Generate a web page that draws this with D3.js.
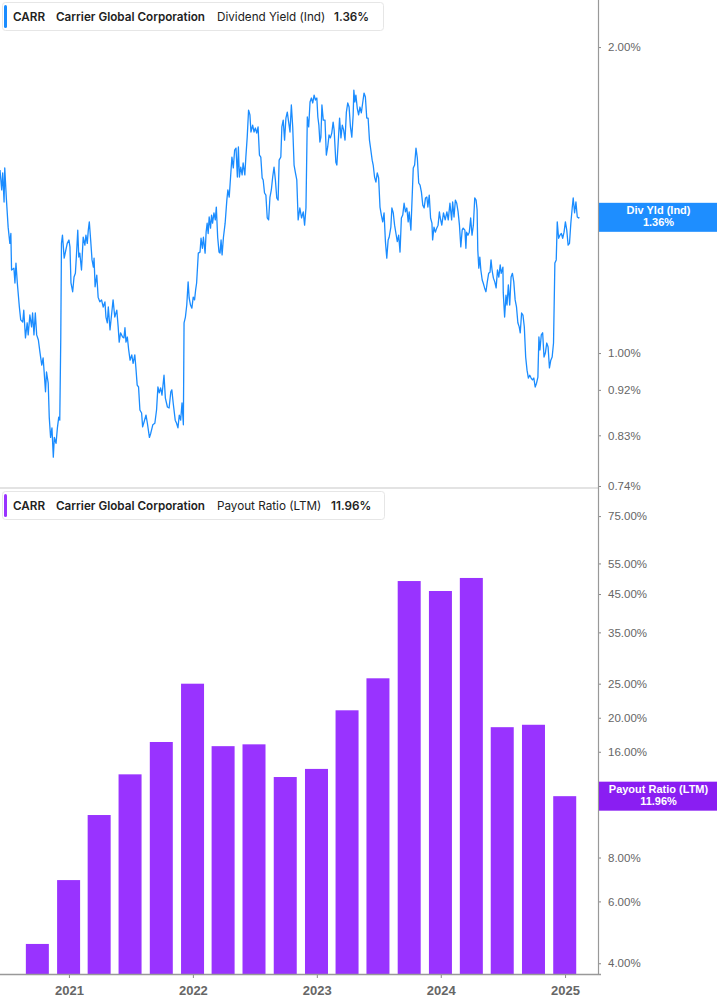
<!DOCTYPE html>
<html><head><meta charset="utf-8">
<script src="https://cdn.jsdelivr.net/npm/d3@7"></script>
<style>
html,body{margin:0;padding:0;background:#fff;}
svg{display:block;}
</style></head>
<body>
<svg id="chart" width="717" height="1005"></svg>
<script>
// ---------- DATA ----------
const yieldDates = ["2020-06-12","2020-06-17","2020-06-20","2020-06-24","2020-06-26","2020-07-01","2020-07-06","2020-07-11","2020-07-14","2020-07-16","2020-07-23","2020-07-26","2020-07-29","2020-08-02","2020-08-08","2020-08-12","2020-08-18","2020-08-21","2020-08-26","2020-08-31","2020-09-03","2020-09-08","2020-09-13","2020-09-16","2020-09-20","2020-09-24","2020-09-28","2020-10-03","2020-10-08","2020-10-13","2020-10-17","2020-10-20","2020-10-24","2020-10-27","2020-11-01","2020-11-04","2020-11-08","2020-11-12","2020-11-16","2020-11-19","2020-11-24","2020-11-28","2020-12-02","2020-12-05","2020-12-08","2020-12-10","2020-12-13","2020-12-18","2020-12-23","2020-12-27",
"2021-01-01","2021-01-04","2021-01-07","2021-01-12","2021-01-16","2021-01-20","2021-01-24","2021-01-27","2021-01-30","2021-02-02","2021-02-07","2021-02-12","2021-02-17","2021-02-20","2021-02-24","2021-02-27","2021-03-02","2021-03-06","2021-03-10","2021-03-14","2021-03-16","2021-03-19","2021-03-24","2021-03-28","2021-04-02","2021-04-07","2021-04-12","2021-04-17","2021-04-20","2021-04-24","2021-04-27","2021-05-02","2021-05-07","2021-05-11","2021-05-16","2021-05-22","2021-05-26","2021-05-29","2021-06-02","2021-06-08","2021-06-12","2021-06-15","2021-06-18","2021-06-22","2021-06-26","2021-06-30","2021-07-05","2021-07-09","2021-07-14","2021-07-17","2021-07-21","2021-07-25","2021-07-29","2021-08-03","2021-08-06","2021-08-10","2021-08-16","2021-08-20","2021-08-26","2021-08-30","2021-09-05","2021-09-11","2021-09-16","2021-09-20","2021-09-24","2021-09-28","2021-10-02","2021-10-08","2021-10-12","2021-10-18","2021-10-23","2021-10-28","2021-10-31","2021-11-04","2021-11-10","2021-11-14","2021-11-18","2021-11-22","2021-11-26","2021-11-30","2021-12-04","2021-12-06","2021-12-10","2021-12-14","2021-12-18","2021-12-21","2021-12-25","2021-12-29",
"2022-01-02","2022-01-06","2022-01-09","2022-01-12","2022-01-17","2022-01-22","2022-01-25","2022-01-29","2022-02-01","2022-02-06","2022-02-09","2022-02-12","2022-02-15","2022-02-18","2022-02-22","2022-02-25","2022-02-28","2022-03-04","2022-03-08","2022-03-11","2022-03-15","2022-03-19","2022-03-22","2022-03-25","2022-03-28","2022-04-01","2022-04-06","2022-04-11","2022-04-14","2022-04-18","2022-04-22","2022-04-26","2022-04-30","2022-05-04","2022-05-08","2022-05-12","2022-05-15","2022-05-18","2022-05-22","2022-05-26","2022-05-29","2022-06-03","2022-06-06","2022-06-10","2022-06-14","2022-06-18","2022-06-21","2022-06-26","2022-06-30","2022-07-04","2022-07-08","2022-07-12","2022-07-16","2022-07-20","2022-07-24","2022-07-27","2022-07-31","2022-08-04","2022-08-08","2022-08-12","2022-08-16","2022-08-20","2022-08-24","2022-08-28","2022-09-01","2022-09-05","2022-09-09","2022-09-12","2022-09-17","2022-09-20","2022-09-24","2022-09-28","2022-10-02","2022-10-06","2022-10-10","2022-10-14","2022-10-18","2022-10-22","2022-10-26","2022-10-30","2022-11-03","2022-11-07","2022-11-10","2022-11-12","2022-11-17","2022-11-22","2022-11-26","2022-11-30","2022-12-04","2022-12-08","2022-12-12","2022-12-16","2022-12-20","2022-12-24","2022-12-28",
"2023-01-01","2023-01-04","2023-01-07","2023-01-10","2023-01-13","2023-01-16","2023-01-20","2023-01-25","2023-01-29","2023-02-02","2023-02-06","2023-02-10","2023-02-14","2023-02-18","2023-02-21","2023-02-26","2023-03-01","2023-03-05","2023-03-09","2023-03-13","2023-03-17","2023-03-21","2023-03-25","2023-03-29","2023-04-02","2023-04-06","2023-04-10","2023-04-14","2023-04-18","2023-04-20","2023-04-23","2023-04-26","2023-04-30","2023-05-04","2023-05-08","2023-05-12","2023-05-16","2023-05-20","2023-05-24","2023-05-28","2023-06-01","2023-06-05","2023-06-09","2023-06-13","2023-06-16","2023-06-20","2023-06-24","2023-06-28","2023-07-02","2023-07-06","2023-07-10","2023-07-14","2023-07-18","2023-07-22","2023-07-26","2023-07-30","2023-08-02","2023-08-07","2023-08-10","2023-08-14","2023-08-18","2023-08-22","2023-08-26","2023-08-30","2023-09-03","2023-09-07","2023-09-11","2023-09-15","2023-09-19","2023-09-23","2023-09-27","2023-09-30","2023-10-05","2023-10-08","2023-10-12","2023-10-16","2023-10-20","2023-10-24","2023-10-28","2023-11-01","2023-11-05","2023-11-09","2023-11-13","2023-11-17","2023-11-21","2023-11-24","2023-11-28","2023-12-02","2023-12-06","2023-12-08","2023-12-12","2023-12-16","2023-12-20","2023-12-24","2023-12-28","2023-12-30",
"2024-01-04","2024-01-09","2024-01-14","2024-01-19","2024-01-23","2024-01-28","2024-02-02","2024-02-05","2024-02-09","2024-02-13","2024-02-17","2024-02-21","2024-02-25","2024-02-29","2024-03-04","2024-03-07","2024-03-12","2024-03-15","2024-03-17","2024-03-21","2024-03-25","2024-03-29","2024-04-02","2024-04-06","2024-04-10","2024-04-14","2024-04-17","2024-04-19","2024-04-22","2024-04-25","2024-04-28","2024-05-02","2024-05-05","2024-05-09","2024-05-13","2024-05-17","2024-05-21","2024-05-25","2024-05-28","2024-05-31","2024-06-04","2024-06-08","2024-06-12","2024-06-16","2024-06-20","2024-06-24","2024-06-27","2024-07-02","2024-07-03","2024-07-07","2024-07-11","2024-07-14","2024-07-18","2024-07-22","2024-07-26","2024-07-30","2024-08-03","2024-08-07","2024-08-11","2024-08-15","2024-08-19","2024-08-22","2024-08-26","2024-08-30","2024-09-03","2024-09-07","2024-09-11","2024-09-15","2024-09-19","2024-09-23","2024-09-27","2024-10-01","2024-10-05","2024-10-09","2024-10-13","2024-10-16","2024-10-19","2024-10-23","2024-10-27","2024-10-31","2024-11-04","2024-11-08","2024-11-12","2024-11-16","2024-11-20","2024-11-24","2024-11-28","2024-12-02","2024-12-06","2024-12-09","2024-12-13","2024-12-17","2024-12-21","2024-12-25","2024-12-29",
"2025-01-02","2025-01-06","2025-01-10","2025-01-14","2025-01-18","2025-01-22","2025-01-25","2025-01-29","2025-02-02","2025-02-06","2025-02-10","2025-02-12"];

const yieldValues = [1.514,1.447,1.504,1.408,1.521,1.414,1.330,1.282,1.311,1.207,1.212,1.172,1.226,1.172,1.110,1.078,1.073,1.102,1.035,1.071,1.042,1.090,1.061,1.095,1.042,1.095,1.042,1.030,1.000,0.973,0.989,0.958,0.916,0.958,0.934,0.865,0.826,0.844,0.790,0.826,0.815,0.844,0.865,0.859,1.037,1.282,1.306,1.240,1.263,1.282,
1.292,1.272,1.172,1.149,1.188,1.198,1.263,1.321,1.243,1.254,1.207,1.300,1.277,1.306,1.282,1.321,1.346,1.292,1.235,1.215,1.240,1.162,1.193,1.135,1.123,1.128,1.110,1.123,1.085,1.071,1.110,1.054,1.095,1.128,1.085,1.102,1.061,1.025,1.047,1.037,1.035,1.059,1.025,1.037,1.007,0.984,0.996,0.977,0.996,0.969,0.930,0.926,0.879,0.873,0.846,0.855,0.869,0.853,0.826,0.834,0.850,0.853,0.879,0.926,0.914,0.924,0.909,0.951,0.903,0.885,0.883,0.916,0.920,0.893,0.859,0.853,0.844,0.869,0.859,0.893,0.850,1.071,1.085,1.115,1.175,1.133,1.115,1.107,
1.135,1.128,1.153,1.172,1.254,1.257,1.297,1.268,1.300,1.254,1.315,1.342,1.311,1.361,1.327,1.367,1.342,1.374,1.352,1.392,1.300,1.257,1.254,1.292,1.249,1.300,1.342,1.414,1.447,1.424,1.490,1.559,1.521,1.584,1.591,1.490,1.595,1.490,1.524,1.497,1.538,1.497,1.559,1.631,1.734,1.715,1.650,1.676,1.650,1.665,1.646,1.669,1.566,1.559,1.487,1.480,1.437,1.430,1.358,1.352,1.424,1.447,1.490,1.524,1.480,1.421,1.414,1.548,1.559,1.669,1.695,1.620,1.703,1.726,1.687,1.650,1.754,1.669,1.531,1.504,1.480,1.352,1.374,1.389,1.358,1.377,1.336,1.389,1.707,1.669,1.766,1.782,1.762,1.794,1.774,
1.782,1.707,1.676,1.613,1.631,1.754,1.695,1.695,1.566,1.595,1.639,1.628,1.646,1.687,1.657,1.541,1.531,1.613,1.703,1.628,1.676,1.657,1.620,1.726,1.762,1.746,1.669,1.631,1.715,1.814,1.766,1.794,1.742,1.715,1.746,1.723,1.762,1.802,1.786,1.703,1.703,1.620,1.584,1.548,1.531,1.490,1.473,1.504,1.487,1.392,1.367,1.346,1.374,1.287,1.240,1.292,1.300,1.330,1.389,1.374,1.336,1.311,1.287,1.306,1.257,1.358,1.367,1.404,1.377,1.389,1.346,1.377,1.321,1.404,1.521,1.531,1.591,1.555,1.470,1.463,1.440,1.398,1.389,1.421,1.424,1.392,1.430,1.358,1.342,1.292,1.330,1.315,1.327,1.336,1.377,1.361,
1.336,1.374,1.352,1.377,1.352,1.404,1.352,1.408,1.361,1.414,1.404,1.377,1.336,1.272,1.321,1.327,1.321,1.268,1.315,1.306,1.315,1.358,1.306,1.336,1.421,1.414,1.383,1.263,1.212,1.243,1.207,1.180,1.172,1.159,1.149,1.175,1.198,1.201,1.235,1.207,1.185,1.175,1.159,1.207,1.188,1.221,1.198,1.215,1.146,1.085,1.140,1.115,1.167,1.115,1.188,1.198,1.175,1.128,1.110,1.071,1.061,1.047,1.095,1.090,1.061,0.991,0.962,0.945,0.951,0.945,0.941,0.945,0.926,0.934,0.947,1.037,1.007,1.042,1.047,0.991,1.000,1.023,1.014,0.967,0.984,0.991,1.023,1.226,1.235,1.346,1.297,1.306,1.311,1.297,1.315,
1.346,1.321,1.277,1.282,1.342,1.389,1.421,1.374,1.408,1.361,1.358,1.360];

const payoutDates = ["2020-09-30","2020-12-31","2021-03-31","2021-06-30","2021-09-30","2021-12-31","2022-03-31","2022-06-30","2022-09-30","2022-12-31","2023-03-31","2023-06-30","2023-09-30","2023-12-31","2024-03-31","2024-06-30","2024-09-30","2024-12-31"];
const payoutValues = [4.54,6.9,10.57,13.8,17.06,25.0,16.6,16.8,13.56,14.3,21.0,25.9,49.0,45.9,50.0,18.8,19.1,11.96];

const yieldTicks = [2.00,1.00,0.92,0.83,0.74];
const payoutTicks = [75,55,45,35,25,20,16,12,8,6,4];
const yearTicks = ["2021-01-01","2022-01-01","2023-01-01","2024-01-01","2025-01-01"];

const ticker = "CARR", company = "Carrier Global Corporation";
const yieldName = "Dividend Yield (Ind)", yieldLast = "1.36%", yieldShort = "Div Yld (Ind)";
const payoutName = "Payout Ratio (LTM)", payoutLast = "11.96%";

// ---------- LAYOUT ----------
const W = 717, H = 1005, axisX = 598;
const top1 = 0, bot1 = 487, top2 = 490, bot2 = 974;
const blue = "#1a8cff", purple = "#9933ff", purpleLbl = "#8a1ef2";
const parse = d3.utcParse("%Y-%m-%d");

const svg = d3.select("#chart");
const x = d3.scaleUtc().domain([parse("2020-06-12"), parse("2025-04-08")]).range([0, axisX]);
const y1 = d3.scaleLog().domain([0.7383, 2.225]).range([bot1, top1]);
const y2 = d3.scaleLog().domain([3.728, 89.0]).range([bot2, top2]);

svg.append("defs").append("clipPath").attr("id","clip1")
  .append("rect").attr("x",0).attr("y",top1).attr("width",axisX).attr("height",bot1-top1);

// separator between panels
svg.append("line").attr("x1",0).attr("x2",axisX).attr("y1",bot1+1).attr("y2",bot1+1)
  .attr("stroke","#e3e3e3").attr("stroke-width",2);

// ---------- TOP PANEL LINE ----------
const lineData = yieldDates.map((d,i)=>({d:parse(d), v:yieldValues[i]}));
svg.append("path").datum(lineData)
  .attr("clip-path","url(#clip1)")
  .attr("fill","none").attr("stroke",blue).attr("stroke-width",1.3)
  .attr("stroke-linejoin","round")
  .attr("d", d3.line().x(p=>x(p.d)).y(p=>y1(p.v)));

// ---------- BOTTOM PANEL BARS ----------
const barW = 23;
svg.append("g").selectAll("rect").data(payoutDates.map((d,i)=>({d:parse(d), v:payoutValues[i]})))
  .join("rect")
  .attr("x", p=>x(p.d)-barW/2)
  .attr("y", p=>y2(p.v))
  .attr("width", barW)
  .attr("height", p=>bot2 - y2(p.v))
  .attr("fill", purple);

// ---------- AXES ----------
const axisColor = "#999", tickText = "#666";
const ay1 = svg.append("g").attr("transform",`translate(${axisX},0)`)
  .call(d3.axisRight(y1).tickValues(yieldTicks).tickSize(3).tickPadding(7)
    .tickFormat(v=>v.toFixed(2)+"%"));
const ay2 = svg.append("g").attr("transform",`translate(${axisX},0)`)
  .call(d3.axisRight(y2).tickValues(payoutTicks).tickSize(3).tickPadding(7)
    .tickFormat(v=>v.toFixed(2)+"%"));
[ay1, ay2].forEach(g=>{
  g.select(".domain").remove();
  g.selectAll(".tick line").attr("stroke","#888");
  g.selectAll(".tick text").attr("fill",tickText).attr("font-family","Liberation Sans, Arial, sans-serif").attr("font-size",11.5);
});
// right vertical axis line
svg.append("line").attr("x1",axisX+0.5).attr("x2",axisX+0.5).attr("y1",0).attr("y2",bot2)
  .attr("stroke",axisColor).attr("stroke-width",1.2);

const ax = svg.append("g").attr("transform",`translate(0,${bot2})`)
  .call(d3.axisBottom(x).tickValues(yearTicks.map(parse)).tickSize(4).tickPadding(8)
    .tickFormat(d3.utcFormat("%Y")));
ax.select(".domain").remove();
ax.selectAll(".tick line").attr("stroke","#888");
ax.selectAll(".tick text").attr("fill",tickText).attr("font-family","Liberation Sans, Arial, sans-serif")
  .attr("font-size",13).attr("font-weight","bold");
svg.append("line").attr("x1",0).attr("x2",axisX+3).attr("y1",bot2+0.5).attr("y2",bot2+0.5)
  .attr("stroke",axisColor).attr("stroke-width",1.5);

// ---------- LAST VALUE LABELS ----------
function lastLabel(yc, color, l1, l2){
  const g = svg.append("g");
  g.append("rect").attr("x",axisX+1).attr("y",yc-14.5).attr("width",W-axisX).attr("height",29).attr("fill",color);
  g.append("text").attr("x",(axisX+W)/2+1).attr("y",yc-3).attr("text-anchor","middle")
    .attr("fill","#fff").attr("font-family","Liberation Sans, Arial, sans-serif").attr("font-weight","bold").attr("font-size",11).text(l1);
  g.append("text").attr("x",(axisX+W)/2+1).attr("y",yc+9).attr("text-anchor","middle")
    .attr("fill","#fff").attr("font-family","Liberation Sans, Arial, sans-serif").attr("font-weight","bold").attr("font-size",11).text(l2);
}
lastLabel(y1(yieldValues[yieldValues.length-1]), "#1e8eff", yieldShort, yieldLast);
lastLabel(y2(payoutValues[payoutValues.length-1]), purpleLbl, payoutName, payoutLast);

// ---------- LEGENDS ----------
function legend(y0, color, name, last, lastX, boxW){
  const g = svg.append("g").attr("transform",`translate(2,${y0})`);
  g.append("rect").attr("x",0.5).attr("y",0.5).attr("width",boxW).attr("height",28).attr("rx",3)
    .attr("fill","#fff").attr("stroke","#e6e6e6");
  g.append("rect").attr("x",2).attr("y",3).attr("width",3).attr("height",23).attr("rx",1.5).attr("fill",color);
  const t = g.append("text").attr("y",19).attr("font-family","Inter, Noto Sans, sans-serif").attr("font-size",11.7).attr("fill","#222");
  t.append("tspan").attr("x",11).attr("font-weight",600).text(ticker);
  t.append("tspan").attr("x",54).attr("font-weight",600).text(company);
  t.append("tspan").attr("x",215).attr("font-weight",400).text(name);
  t.append("tspan").attr("x",lastX).attr("font-weight",600).text(last);
}
legend(2, blue, yieldName, yieldLast, 332, 381);
legend(491, purple, payoutName, payoutLast, 329, 382);
</script>
</body></html>
